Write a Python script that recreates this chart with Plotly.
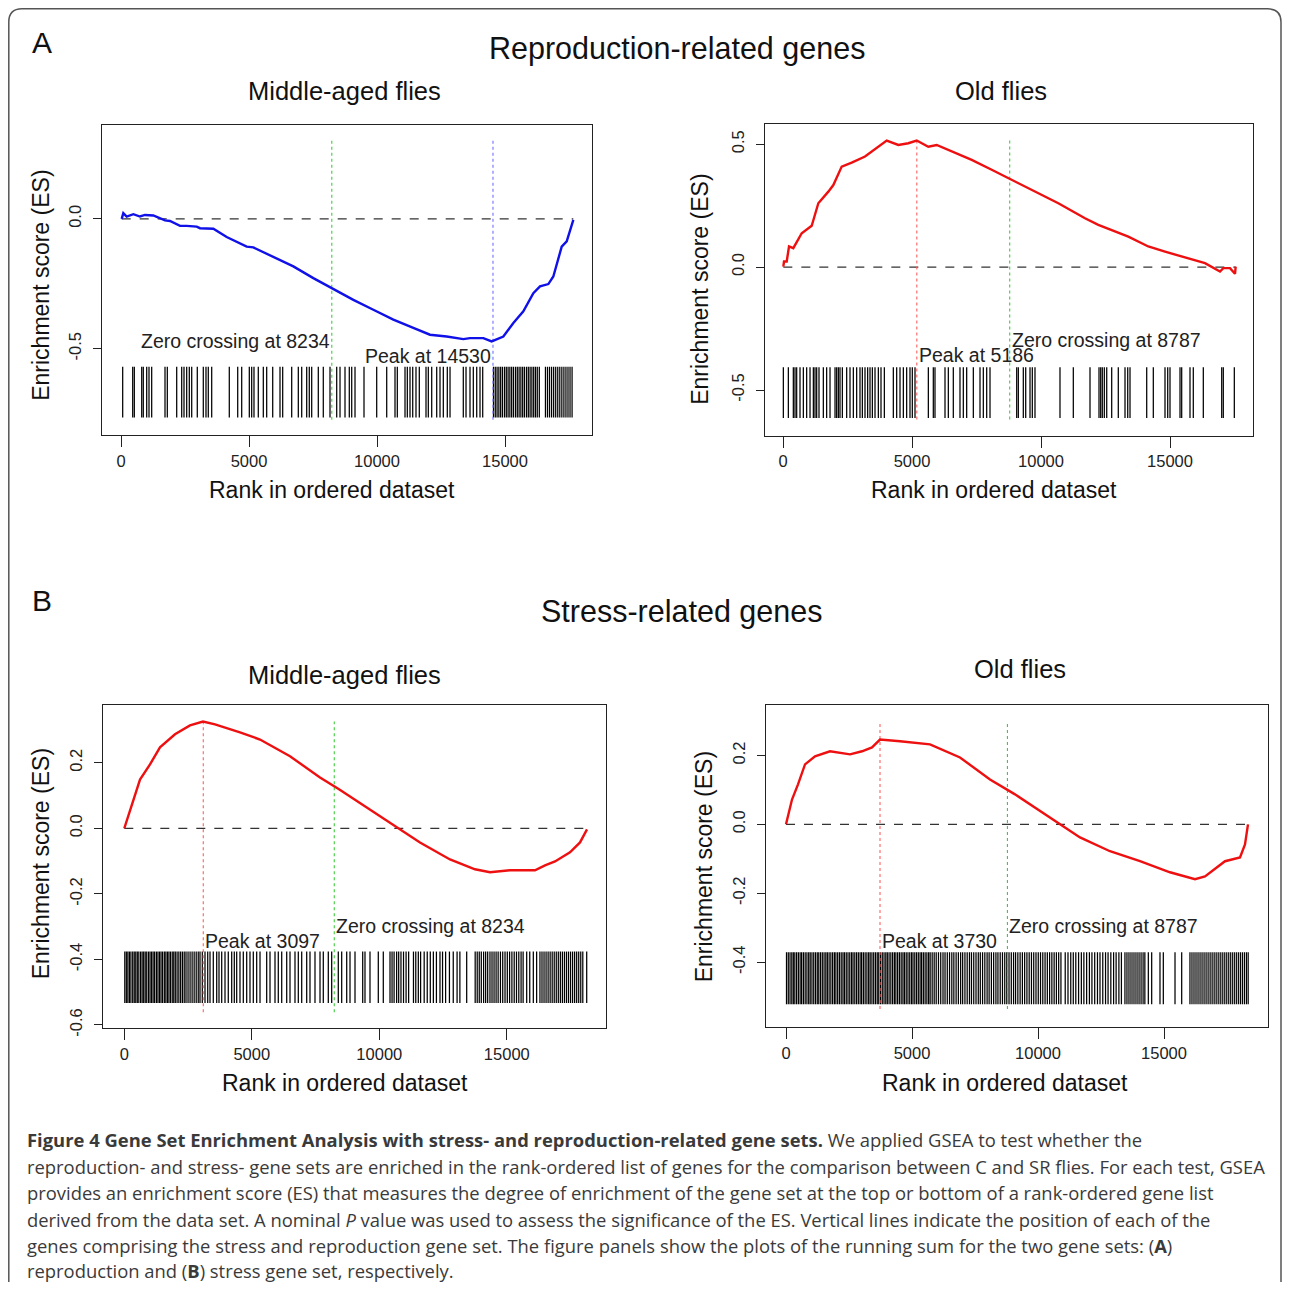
import plotly.graph_objects as go

# page body has an 8px margin; the photographed page is squeezed vertically by ~1291/1299
OFF = 8
W, H = 1274, 1283
SY = 1291.0 / 1299.0

# ---------------- DATA ----------------
x_ticks = [0, 5000, 10000, 15000]

# Panel A, middle-aged flies (reproduction genes)
a_mid_rank = [27, 91, 221, 482, 742, 937, 1263, 1719, 1914, 2305, 2565, 2956, 3086, 3607, 4128, 4909, 5169,
              6211, 6732, 7513, 8229, 9076, 9857, 10638, 11419, 12070, 12721, 13372, 13633, 14154, 14479,
              14935, 15326, 15716, 16107, 16367, 16693, 16888, 17214, 17410, 17669]
a_mid_es = [0.0, 0.022, 0.009, 0.018, 0.009, 0.015, 0.013, -0.006, -0.008, -0.027, -0.027, -0.030, -0.036,
            -0.038, -0.070, -0.107, -0.110, -0.158, -0.183, -0.228, -0.267, -0.312, -0.350, -0.388, -0.420,
            -0.446, -0.453, -0.463, -0.459, -0.459, -0.472, -0.453, -0.401, -0.356, -0.286, -0.260, -0.251,
            -0.222, -0.107, -0.087, -0.004]
a_mid_hits = [66, 457, 520, 809, 871, 1004, 1094, 1199, 1719, 1809, 2176, 2371, 2461, 2566, 2668, 2762, 2980,
              3215, 3320, 3410, 3543, 4230, 4559, 4715, 5012, 5105, 5195, 5363, 5559, 5691, 5926, 6211, 6316,
              6668, 6926, 7059, 7254, 7355, 7449, 7707, 7902, 8164, 8426, 8555, 8750, 8918, 9012, 9141, 9492,
              9988, 10379, 10703, 10793, 11094, 11184, 11289, 11395, 11523, 11652, 11914, 12004, 12137, 12332,
              12461, 12590, 12746, 12852, 13371, 13477, 13633, 13762, 13895, 14023, 14129, 14550, 14620, 14690,
              14760, 14830, 14900, 14980, 15050, 15120, 15190, 15260, 15330, 15410, 15480, 15550, 15620, 15690,
              15760, 15840, 15910, 15980, 16050, 16120, 16190, 16260, 16340, 16580, 16660, 16740, 16820, 16900,
              16980, 17060, 17140, 17220, 17300, 17380, 17460, 17540, 17620]
a_mid_zero, a_mid_peak = 8234, 14530

# Panel A, old flies
a_old_rank = [12, 39, 143, 233, 399, 725, 1112, 1369, 1757, 1951, 2275, 2663, 3178, 3695, 4019, 4470, 4857,
              5182, 5632, 5957, 6539, 7314, 8089, 8671, 9640, 10671, 11705, 12221, 13384, 14159, 14806, 15453,
              16357, 16938, 17066, 17326, 17519, 17546]
a_old_es = [0.002, 0.023, 0.023, 0.084, 0.077, 0.138, 0.168, 0.260, 0.307, 0.334, 0.409, 0.425, 0.450, 0.490,
            0.515, 0.497, 0.504, 0.515, 0.490, 0.497, 0.470, 0.436, 0.396, 0.366, 0.314, 0.260, 0.199, 0.172,
            0.124, 0.084, 0.063, 0.043, 0.016, -0.018, -0.004, -0.004, -0.027, 0.002]
a_old_hits = [13, 207, 400, 465, 530, 659, 788, 917, 1047, 1176, 1240, 1305, 1395, 1563, 1692, 1822, 2016, 2080,
              2145, 2209, 2300, 2468, 2597, 2726, 2855, 2984, 3075, 3178, 3281, 3372, 3463, 3566, 3695, 3798,
              3928, 4276, 4406, 4535, 4664, 4793, 4922, 5012, 5116, 5633, 5826, 5891, 6279, 6408, 6601, 6860,
              6989, 7119, 7377, 7636, 7764, 7895, 8023, 9058, 9121, 9314, 9407, 9574, 9663, 9767, 10736, 11252,
              11899, 12248, 12314, 12376, 12454, 12547, 12740, 12996, 13256, 13361, 13450, 14097, 14353, 14806,
              14911, 15000, 15388, 15453, 15775, 15903, 16291, 17004, 17066, 17493]
a_old_zero, a_old_peak = 8787, 5186

# Panel B, middle-aged flies (stress genes)
b_mid_rank = [0, 235, 616, 1008, 1400, 1988, 2576, 3086, 3557, 4537, 5322, 6498, 7675, 8420, 9635, 10812,
              11596, 12773, 13753, 14341, 15125, 16106, 16498, 16890, 17478, 17871, 18145]
b_mid_es = [0.0, 0.058, 0.149, 0.195, 0.247, 0.287, 0.314, 0.326, 0.317, 0.293, 0.271, 0.220, 0.155, 0.119,
            0.058, -0.003, -0.043, -0.095, -0.125, -0.134, -0.128, -0.128, -0.113, -0.101, -0.073, -0.043, -0.003]
b_mid_hits = [20, 80, 140, 200, 260, 330, 390, 450, 510, 570, 640, 700, 760, 820, 880, 950, 1010, 1070, 1130,
              1190, 1260, 1320, 1380, 1440, 1500, 1570, 1630, 1690, 1750, 1810, 1880, 1940, 2000, 2070, 2140,
              2210, 2280, 2350, 2420, 2500, 2580, 2660, 2740, 2820, 2900, 2969, 3059, 3165, 3271, 3361, 3490,
              3624, 3714, 3820, 3949, 4078, 4212, 4314, 4408, 4537, 4667, 4800, 4929, 5059, 5192, 5322, 5584,
              5714, 5910, 6039, 6173, 6369, 6498, 6694, 6824, 6957, 7153, 7282, 7478, 7675, 7804, 8000, 8133,
              8392, 8525, 8722, 8851, 9047, 9349, 9439, 9635, 9961, 10157, 10420, 10500, 10580, 10680, 10760,
              10850, 10950, 11050, 11150, 11340, 11430, 11530, 11620, 11760, 11880, 12000, 12120, 12240, 12380,
              12480, 12600, 12750, 12900, 13050, 13160, 13427, 13760, 13840, 13920, 14000, 14090, 14170, 14250,
              14340, 14420, 14500, 14580, 14660, 14750, 14840, 14930, 15020, 15110, 15200, 15290, 15380, 15470,
              15560, 15640, 15780, 15900, 16040, 16170, 16300, 16380, 16460, 16540, 16620, 16700, 16780, 16860,
              16940, 17020, 17100, 17180, 17260, 17340, 17420, 17500, 17580, 17660, 17740, 17820, 17900, 17980,
              18133]
b_mid_zero, b_mid_peak = 8234, 3097

# Panel B, old flies
b_old_rank = [0, 238, 476, 754, 1151, 1746, 2540, 3016, 3413, 3730, 4524, 5714, 6905, 8095, 9087, 10079,
              10873, 11667, 12857, 14048, 15238, 16230, 16627, 17024, 17421, 18016, 18214, 18333]
b_old_es = [0.0, 0.072, 0.116, 0.174, 0.197, 0.212, 0.203, 0.212, 0.223, 0.246, 0.241, 0.232, 0.194, 0.130,
            0.087, 0.038, 0.0, -0.038, -0.078, -0.107, -0.139, -0.159, -0.151, -0.130, -0.107, -0.096, -0.058, 0.0]
b_old_hits = [20, 90, 160, 230, 290, 350, 420, 490, 560, 620, 690, 760, 830, 900, 960, 1030, 1100, 1170, 1240,
              1300, 1370, 1440, 1510, 1580, 1640, 1710, 1780, 1850, 1920, 1980, 2050, 2120, 2190, 2260, 2320,
              2390, 2460, 2530, 2600, 2660, 2730, 2800, 2870, 2940, 3000, 3070, 3140, 3210, 3280, 3340, 3410,
              3480, 3550, 3620, 3680, 3750, 3820, 3890, 3960, 4020, 4090, 4160, 4230, 4300, 4360, 4430, 4500,
              4570, 4640, 4700, 4770, 4840, 4910, 4980, 5040, 5110, 5180, 5250, 5320, 5380, 5450, 5520, 5590,
              5660, 5720, 5800, 5880, 5960, 6050, 6140, 6230, 6310, 6400, 6490, 6580, 6660, 6750, 6840, 6930,
              7010, 7100, 7190, 7280, 7360, 7450, 7540, 7630, 7710, 7800, 7890, 7980, 8060, 8150, 8240, 8330,
              8410, 8500, 8590, 8680, 8760, 8850, 8940, 9030, 9110, 9200, 9290, 9380, 9470, 9560, 9650, 9740,
              9830, 9920, 10010, 10100, 10190, 10280, 10370, 10460, 10550, 10640, 10730, 10820, 10910, 11080,
              11190, 11300, 11400, 11500, 11610, 11720, 11820, 11930, 12040, 12140, 12250, 12360, 12460, 12570,
              12680, 12780, 12890, 13000, 13100, 13210, 13310, 13450, 13530, 13610, 13690, 13770, 13850, 13930,
              14010, 14090, 14170, 14240, 14378, 14511, 14841, 14973, 15437, 15702, 16030, 16110, 16190, 16270,
              16350, 16430, 16510, 16590, 16670, 16750, 16830, 16910, 16990, 17070, 17150, 17230, 17310, 17390,
              17470, 17550, 17630, 17710, 17790, 17870, 17950, 18030, 18110, 18190, 18270, 18340]
b_old_zero, b_old_peak = 8787, 3730

section_titles = ["Reproduction-related genes", "Stress-related genes"]
panel_titles = ["Middle-aged flies", "Old flies", "Middle-aged flies", "Old flies"]
x_title = "Rank in ordered dataset"
y_title = "Enrichment score (ES)"

caption_lines = [
    "<b>Figure 4 Gene Set Enrichment Analysis with stress- and reproduction-related gene sets.</b> We applied GSEA to test whether the",
    "reproduction- and stress- gene sets are enriched in the rank-ordered list of genes for the comparison between C and SR flies. For each test, GSEA",
    "provides an enrichment score (ES) that measures the degree of enrichment of the gene set at the top or bottom of a rank-ordered gene list",
    "derived from the data set. A nominal <i>P</i> value was used to assess the significance of the ES. Vertical lines indicate the position of each of the",
    "genes comprising the stress and reproduction gene set. The figure panels show the plots of the running sum for the two gene sets: (<b>A</b>)",
    "reproduction and (<b>B</b>) stress gene set, respectively.",
]

# ---------------- LAYOUT / STYLE ----------------
FONT = "Liberation Sans, Arial, sans-serif"


def px(x):
    return (x - OFF) / W


def py(y):
    return 1 - (y / SY - OFF) / H


panels = [
    dict(rank=a_mid_rank, es=a_mid_es, hits=a_mid_hits, zero=a_mid_zero, peak=a_mid_peak,
         box=(102, 125, 592, 435.7), xr=(-742, 18398), yr=(-0.8335, 0.3615),
         yt=[-0.5, 0.0], color="#1010e8", peak_color="#6f6fff",
         bar=(-0.765, -0.569), vline=(-0.773, 0.304),
         zero_txt=(-0.469, "right"), peak_txt=(-0.527, "right"),
         title=(344, 91), xlab=(332, 490), ylab=(41, 286)),
    dict(rank=a_old_rank, es=a_old_es, hits=a_old_hits, zero=a_old_zero, peak=a_old_peak,
         box=(765, 124, 1253, 436), xr=(-698, 18217), yr=(-0.6858, 0.5825),
         yt=[-0.5, 0.0, 0.5], color="#ee1010", peak_color="#ff6060",
         bar=(-0.614, -0.407), vline=(-0.620, 0.517),
         zero_txt=(-0.297, "left"), peak_txt=(-0.358, "left"),
         title=(1001, 91), xlab=(994, 490), ylab=(700, 290)),
    dict(rank=b_mid_rank, es=b_mid_es, hits=b_mid_hits, zero=b_mid_zero, peak=b_mid_peak,
         box=(103, 706, 606, 1029), xr=(-835, 18890), yr=(-0.6098, 0.375),
         yt=[-0.6, -0.4, -0.2, 0.0, 0.2], color="#ee1010", peak_color="#ff6060",
         bar=(-0.533, -0.376), vline=(-0.561, 0.326),
         zero_txt=(-0.299, "left"), peak_txt=(-0.345, "left"),
         title=(344, 676), xlab=(345, 1084), ylab=(41, 865)),
    dict(rank=b_old_rank, es=b_old_es, hits=b_old_hits, zero=b_old_zero, peak=b_old_peak,
         box=(766, 706, 1268, 1028), xr=(-794, 19127), yr=(-0.5884, 0.3449),
         yt=[-0.4, -0.2, 0.0, 0.2], color="#ee1010", peak_color="#ff6060",
         bar=(-0.522, -0.371), vline=(-0.536, 0.299),
         zero_txt=(-0.296, "left"), peak_txt=(-0.339, "left"),
         title=(1020, 670), xlab=(1005, 1084), ylab=(704, 868)),
]

fig = go.Figure()
annotations = []
layout_axes = {}

for i, p in enumerate(panels):
    n = "" if i == 0 else str(i + 1)
    xa, ya = "x" + n, "y" + n
    x0, y0, x1, y1 = p["box"]
    axis_common = dict(showline=True, mirror=True, linecolor="#222", linewidth=1, showgrid=False,
                       zeroline=False, ticks="outside", tickcolor="#222", tickwidth=1,
                       tickfont=dict(family=FONT, size=16.5, color="#222"), fixedrange=True)
    layout_axes["xaxis" + n] = dict(domain=[px(x0), px(x1)], range=list(p["xr"]), anchor=ya,
                                    tickvals=x_ticks, ticktext=[str(v) for v in x_ticks],
                                    ticklen=11, ticklabelstandoff=0, **axis_common)
    layout_axes["yaxis" + n] = dict(domain=[py(y1), py(y0)], range=list(p["yr"]), anchor=xa,
                                    tickvals=p["yt"], ticktext=["%.1f" % v for v in p["yt"]],
                                    tickangle=-90, ticklen=8, ticklabelstandoff=5, **axis_common)

    # barcode of hits
    bx, by = [], []
    for h in p["hits"]:
        bx += [h, h, None]
        by += [p["bar"][0], p["bar"][1], None]
    fig.add_trace(go.Scatter(x=bx, y=by, mode="lines", line=dict(color="#000", width=1.25),
                             xaxis=xa, yaxis=ya, hoverinfo="skip", showlegend=False))
    # zero dashed line
    fig.add_trace(go.Scatter(x=[p["rank"][0], p["rank"][-1]], y=[0, 0], mode="lines",
                             line=dict(color="#333", width=1.2, dash="dash"),
                             xaxis=xa, yaxis=ya, hoverinfo="skip", showlegend=False))
    # vertical dotted lines
    fig.add_trace(go.Scatter(x=[p["zero"], p["zero"]], y=list(p["vline"]), mode="lines",
                             line=dict(color="#3ccc3c", width=1.1, dash="dot"),
                             xaxis=xa, yaxis=ya, hoverinfo="skip", showlegend=False))
    fig.add_trace(go.Scatter(x=[p["peak"], p["peak"]], y=list(p["vline"]), mode="lines",
                             line=dict(color=p["peak_color"], width=1.1, dash="dot"),
                             xaxis=xa, yaxis=ya, hoverinfo="skip", showlegend=False))
    # running ES
    fig.add_trace(go.Scatter(x=p["rank"], y=p["es"], mode="lines",
                             line=dict(color=p["color"], width=2.4),
                             xaxis=xa, yaxis=ya, hoverinfo="skip", showlegend=False))

    txt_font = dict(family=FONT, size=19.5, color="#222")
    annotations.append(dict(x=p["zero"], y=p["zero_txt"][0], xref=xa, yref=ya,
                            text="Zero crossing at %d" % p["zero"], showarrow=False,
                            xanchor=p["zero_txt"][1], yanchor="middle", font=txt_font))
    annotations.append(dict(x=p["peak"], y=p["peak_txt"][0], xref=xa, yref=ya,
                            text="Peak at %d" % p["peak"], showarrow=False,
                            xanchor=p["peak_txt"][1], yanchor="middle", font=txt_font))
    # titles
    annotations.append(dict(x=px(p["title"][0]), y=py(p["title"][1]), xref="paper", yref="paper",
                            text=panel_titles[i], showarrow=False, xanchor="center", yanchor="middle",
                            font=dict(family=FONT, size=25.5, color="#111")))
    annotations.append(dict(x=px(p["xlab"][0]), y=py(p["xlab"][1]), xref="paper", yref="paper",
                            text=x_title, showarrow=False, xanchor="center", yanchor="middle",
                            font=dict(family=FONT, size=23, color="#111")))
    annotations.append(dict(x=px(p["ylab"][0]), y=py(p["ylab"][1]), xref="paper", yref="paper",
                            text=y_title, showarrow=False, xanchor="center", yanchor="middle",
                            textangle=-90, font=dict(family=FONT, size=23, color="#111")))

# section titles and letters
annotations.append(dict(x=px(677), y=py(48), xref="paper", yref="paper", text=section_titles[0],
                        showarrow=False, xanchor="center", yanchor="middle",
                        font=dict(family=FONT, size=30.5, color="#111")))
annotations.append(dict(x=px(681), y=py(612), xref="paper", yref="paper", text=section_titles[1],
                        showarrow=False, xanchor="center", yanchor="middle",
                        font=dict(family=FONT, size=30.5, color="#111")))
annotations.append(dict(x=px(42), y=py(42), xref="paper", yref="paper", text="A", showarrow=False,
                        xanchor="center", yanchor="middle", font=dict(family=FONT, size=30, color="#111")))
annotations.append(dict(x=px(42), y=py(601), xref="paper", yref="paper", text="B", showarrow=False,
                        xanchor="center", yanchor="middle", font=dict(family=FONT, size=30, color="#111")))

# caption
cap_y = [1140, 1167, 1193, 1220, 1247, 1272]
for line, yy in zip(caption_lines, cap_y):
    annotations.append(dict(x=px(25), y=py(yy), xref="paper", yref="paper", text=line, showarrow=False,
                            xanchor="left", yanchor="middle",
                            font=dict(family="Open Sans, Noto Sans, sans-serif", size=18.4, color="#3a3a3a")))

# border (right edge kept inside the drawable area)
border = ("M %f,%f L %f,%f Q %f,%f %f,%f L %f,%f Q %f,%f %f,%f L %f,%f" % (
    px(8.8), 0.0, px(8.8), py(22), px(8.8), py(8.8), px(22), py(8.8),
    px(1268), py(8.8), px(1281), py(8.8), px(1281), py(22), px(1281), 0.0))

fig.update_layout(
    width=W, height=H, margin=dict(l=0, r=0, t=0, b=0),
    paper_bgcolor="white", plot_bgcolor="white",
    annotations=annotations,
    shapes=[dict(type="path", path=border, xref="paper", yref="paper",
                 line=dict(color="#555", width=1.5))],
    **layout_axes,
)

fig.write_html("out.html")
